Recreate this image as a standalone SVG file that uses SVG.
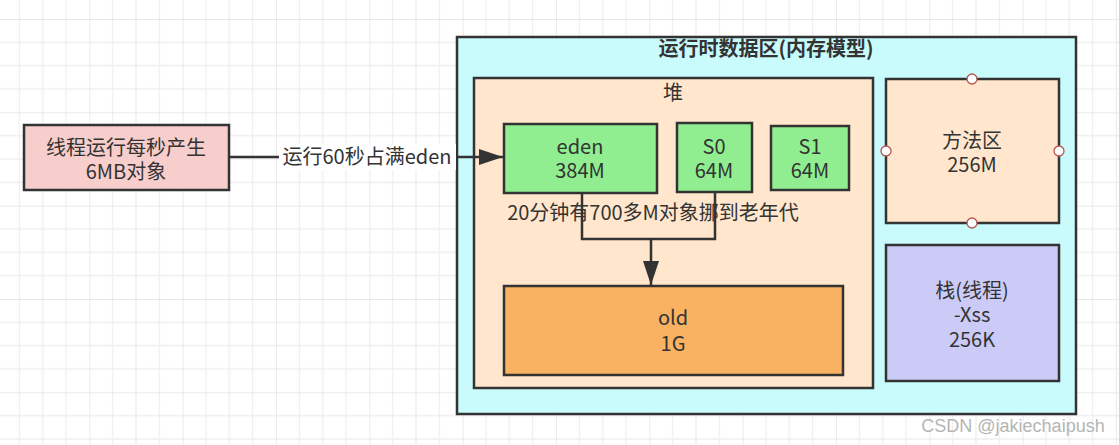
<svg xmlns="http://www.w3.org/2000/svg" width="1119" height="445" viewBox="0 0 1119 445">
<style>
text{font-family:"Microsoft YaHei","Noto Sans CJK SC","Noto Sans",sans-serif;font-size:20px;fill:#333;text-anchor:middle}
.box{stroke:#333;stroke-width:2.5}
.edge{fill:none;stroke:#333;stroke-width:2.5}
.pt{fill:#fff;stroke:#b85450;stroke-width:1.3}
</style>
<defs>
<pattern id="grid" patternUnits="userSpaceOnUse" x="-4" y="19" width="93.333" height="93.333">
<path d="M23.333 0V93.333M46.667 0V93.333M70 0V93.333M0 23.333H93.333M0 46.667H93.333M0 70H93.333" stroke="#efefef" stroke-width="1.3" fill="none"/>
<path d="M0 0V93.333M0 0H93.333" stroke="#e2e2e2" stroke-width="1.3" fill="none"/>
</pattern>
<marker id="arr" markerUnits="userSpaceOnUse" markerWidth="26" markerHeight="18" refX="24" refY="8" orient="auto">
<path d="M0 0L24 8L0 16Z" fill="#333"/>
</marker>
</defs>
<rect width="1119" height="445" fill="#fff"/>
<rect width="1119" height="445" fill="url(#grid)"/>
<g id="runtime">
<rect class="box" x="457" y="37" width="619" height="377" fill="#c9fbfc" stroke-width="3"/>
<text x="766" y="56" font-weight="bold">运行时数据区(内存模型)</text>
</g>
<g id="heap">
<rect class="box" x="474" y="78" width="399" height="310" fill="#ffe6cc"/>
<text x="673" y="100">堆</text>
</g>
<g id="thread">
<rect class="box" x="24" y="125" width="205" height="65" fill="#f8cecc"/>
<text x="126" y="155">线程运行每秒产生</text>
<text x="126" y="179">6MB对象</text>
</g>
<g id="eden">
<rect class="box" x="504" y="124" width="153" height="69" fill="#90ee90"/>
<text x="580" y="154">eden</text>
<text x="580" y="178">384M</text>
</g>
<g id="s0">
<rect class="box" x="677" y="123" width="75" height="69" fill="#90ee90"/>
<text x="714" y="154">S0</text>
<text x="714" y="178">64M</text>
</g>
<g id="s1">
<rect class="box" x="771" y="126" width="78" height="64" fill="#90ee90"/>
<text x="810" y="154">S1</text>
<text x="810" y="178">64M</text>
</g>
<g id="old">
<rect class="box" x="504" y="286" width="339" height="89" fill="#f8b262"/>
<text x="673" y="325">old</text>
<text x="673" y="351">1G</text>
</g>
<g id="method">
<rect class="box" x="886" y="79" width="173" height="144" fill="#ffe6cc"/>
<text x="972" y="148">方法区</text>
<text x="972" y="172">256M</text>
<circle class="pt" cx="972" cy="79" r="5"/>
<circle class="pt" cx="886" cy="151" r="5"/>
<circle class="pt" cx="1059" cy="151" r="5"/>
<circle class="pt" cx="972" cy="223" r="5"/>
</g>
<g id="stack">
<rect class="box" x="886" y="245" width="173" height="136" fill="#cccbf7"/>
<text x="972" y="298">栈(线程)</text>
<text x="972" y="322">-Xss</text>
<text x="972" y="347">256K</text>
</g>
<g id="connectors">
<path class="edge" d="M229 157H503" marker-end="url(#arr)"/>
<rect x="279" y="144" width="177" height="26" fill="#fff"/>
<text x="367" y="164">运行60秒占满eden</text>
<path class="edge" d="M582 193V239H715V192"/>
<path class="edge" d="M651 239V285" marker-end="url(#arr)"/>
<text x="653" y="220">20分钟有700多M对象挪到老年代</text>
</g>
<text x="1013" y="432" style="font-family:'Liberation Sans',Arial,sans-serif;font-size:18px;fill:#b5b5b5">CSDN @jakiechaipush</text>
</svg>
